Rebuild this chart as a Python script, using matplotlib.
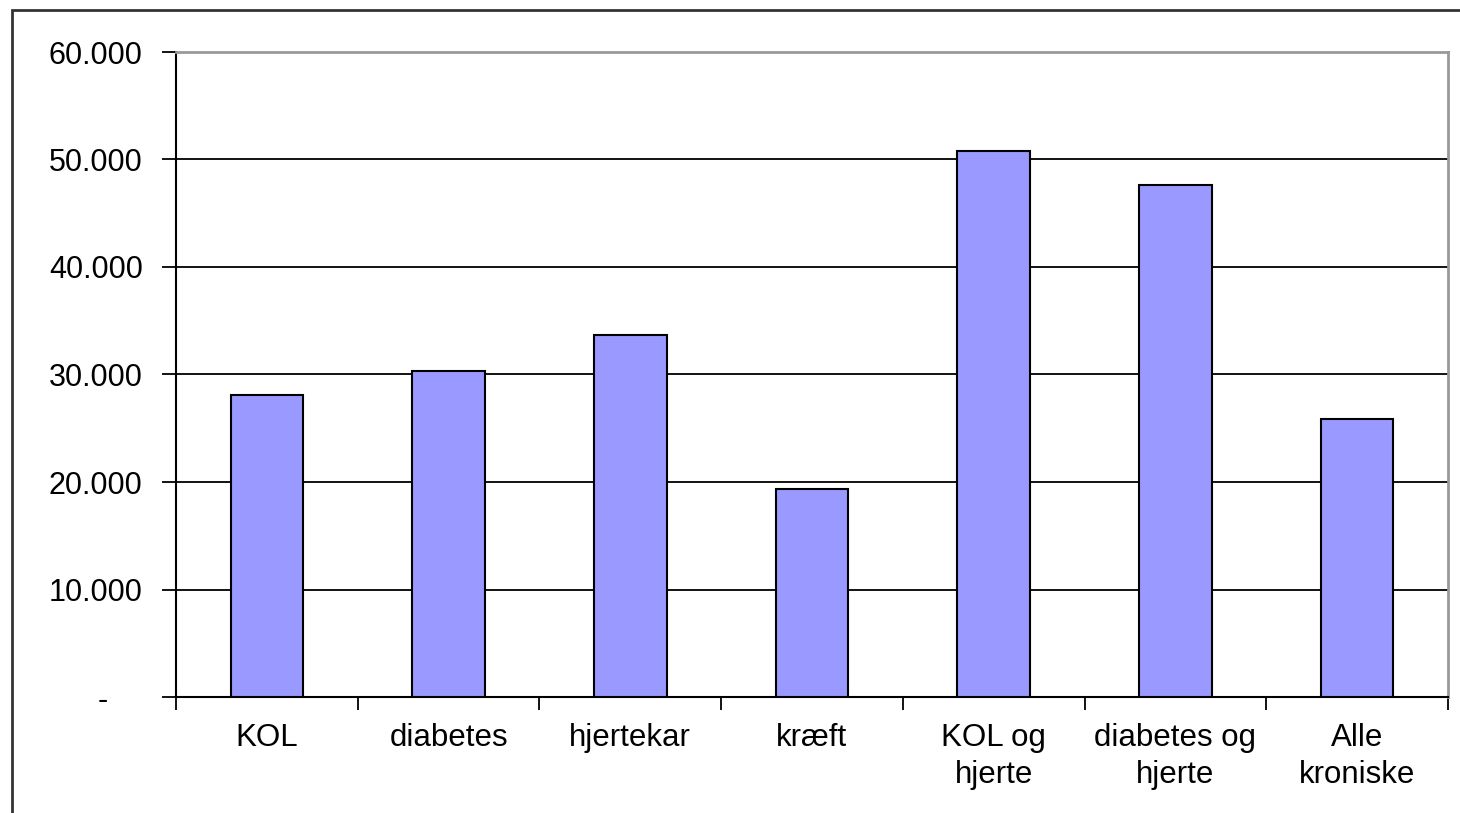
import matplotlib.pyplot as plt
from matplotlib.patches import Rectangle
from matplotlib.ticker import FuncFormatter

categories = ["KOL", "diabetes", "hjertekar", "kræft", "KOL og\nhjerte",
              "diabetes og\nhjerte", "Alle\nkroniske"]
values = [28100, 30300, 33700, 19350, 50800, 47650, 25850]
y_ticks = [0, 10000, 20000, 30000, 40000, 50000, 60000]

plt.rcParams['font.family'] = ['Liberation Sans', 'DejaVu Sans']

fig = plt.figure(figsize=(14.6, 8.13), dpi=100)
ax = fig.add_axes([176 / 1460, 1 - 697 / 813, (1448 - 176) / 1460, (697 - 52) / 813])

# outer frame (runs off the right and bottom edges)
fig.patches.append(Rectangle((12 / 1460, -0.05), 1.2, 1 - 10 / 813 + 0.05,
                             transform=fig.transFigure, fill=False,
                             edgecolor='#333333', linewidth=2))

x = list(range(len(categories)))
ax.bar(x, values, width=0.4, color='#9999FF', edgecolor='black', linewidth=1.5, zorder=3)

ax.set_xlim(-0.5, len(categories) - 0.5)
ax.set_ylim(0, 60000)
ax.set_yticks(y_ticks)
ax.yaxis.set_major_formatter(FuncFormatter(
    lambda v, p: "-\u2007\u2007" if v == 0 else f"{int(v):,}".replace(",", ".")))
ax.grid(axis='y', color='black', linewidth=1.3, zorder=1)

# category labels centred, ticks on the boundaries
ax.set_xticks(x)
ax.set_xticklabels(categories, fontsize=22.5, linespacing=1.28)
ax.tick_params(axis='x', length=0, pad=19)
ax.set_xticks([i - 0.5 for i in range(len(categories) + 1)], minor=True)
ax.tick_params(axis='x', which='minor', length=9, width=1.3, direction='out')
ax.tick_params(axis='y', length=10, width=1.3, labelsize=22, pad=14)

for s in ['left', 'bottom']:
    ax.spines[s].set_linewidth(1.5)
for s in ['top', 'right']:
    ax.spines[s].set_color('#999999')
    ax.spines[s].set_linewidth(2)

fig.savefig("out.png", dpi=100)
